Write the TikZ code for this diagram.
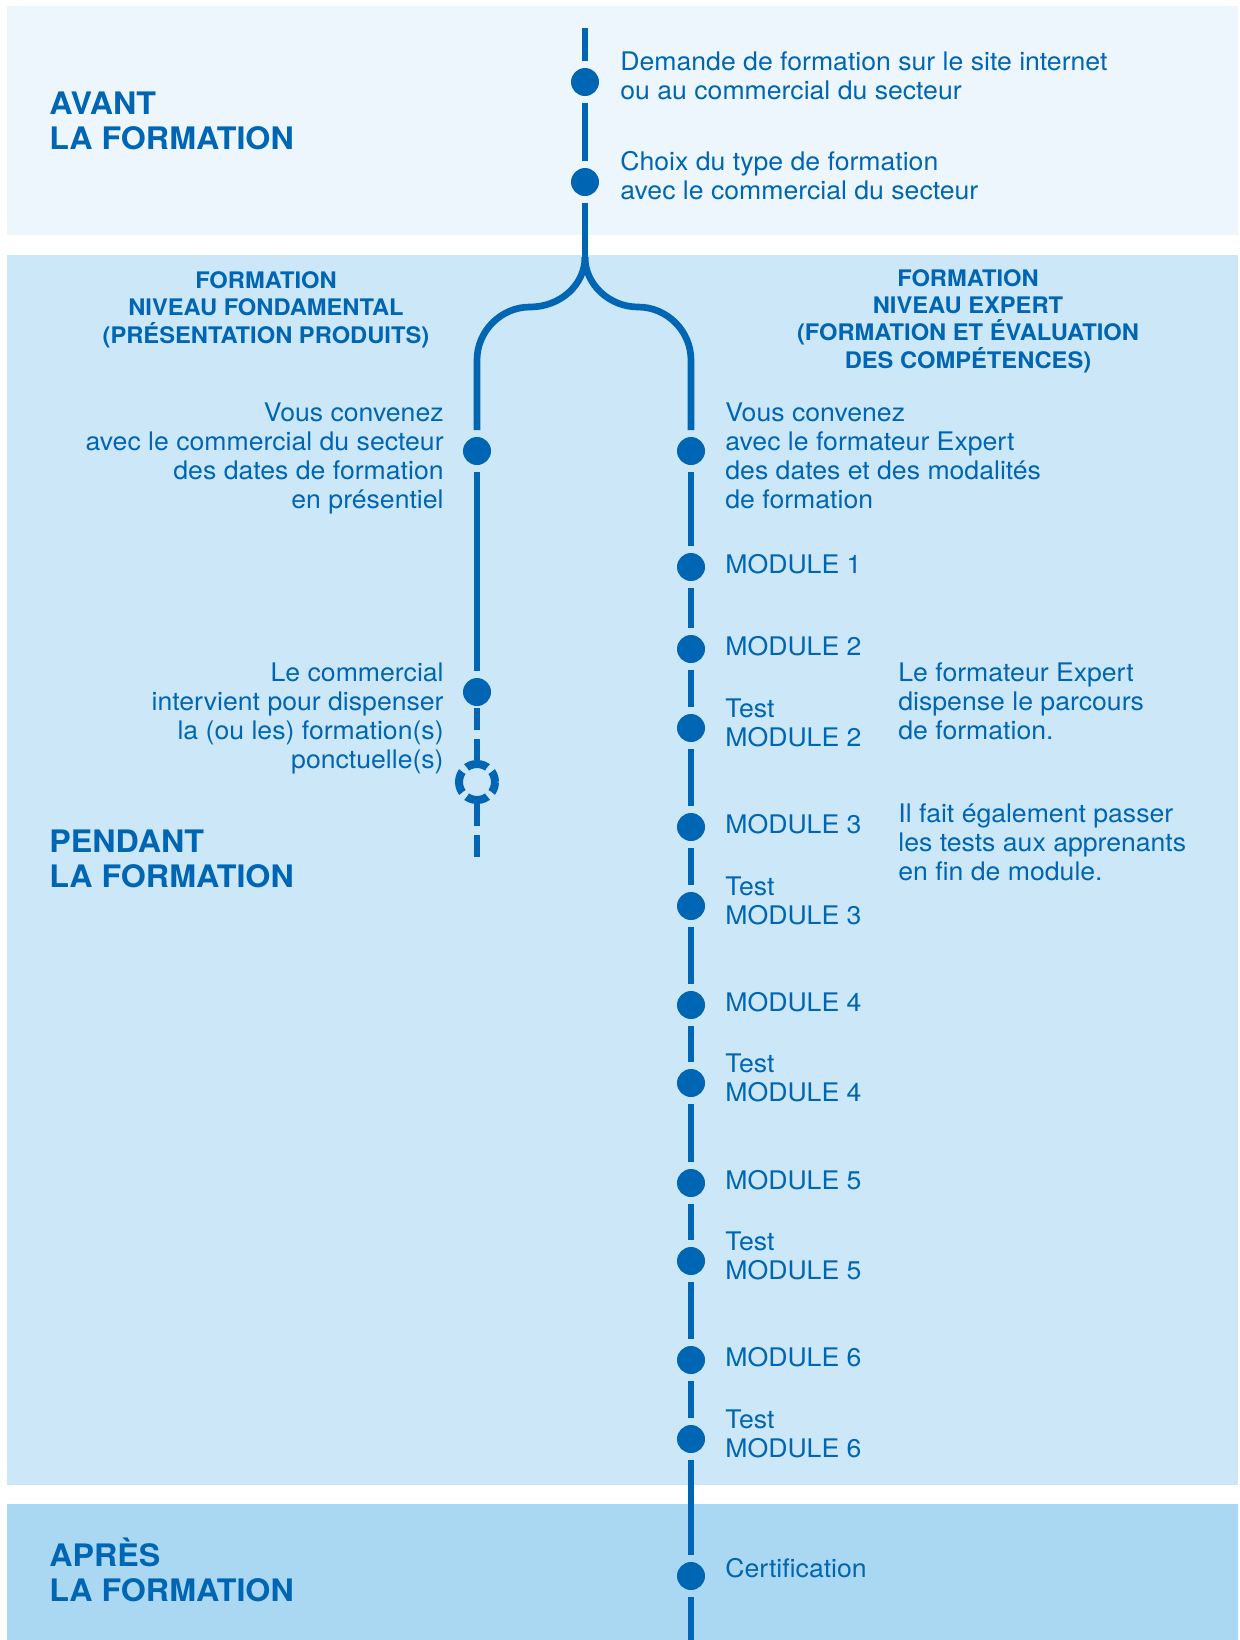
\documentclass[tikz,border=0pt]{standalone}
\usepackage{fontspec}
\setmainfont{TeX Gyre Heros}[FakeStretch=1.04]
\definecolor{bleu}{HTML}{0066B3}
\definecolor{fondA}{HTML}{EDF6FD}
\definecolor{fondB}{HTML}{CCE7F8}
\definecolor{fondC}{HTML}{AAD8F2}

\begin{document}
\begin{tikzpicture}[x=0.5pt, y=-0.5pt,
		ligne/.style={draw=bleu, line width=3.35pt},
		tirets/.style={dash pattern=on 11pt off 4.5pt},
		jalon/.style={circle, fill=bleu, minimum size=14pt, inner sep=0pt, outer sep=3.5pt},
		anneau/.style={circle, draw=bleu, line width=4pt, minimum size=18pt, inner sep=0pt,
			dash pattern=on 11pt off 3.137pt, dash phase=5.5pt},
		texte/.style={text=bleu, font=\fontsize{12.8}{14.5}\selectfont, inner sep=0pt, align=left},
		texteD/.style={texte, align=right},
		titre/.style={text=bleu, font=\fontsize{15.5}{17.25}\selectfont\bfseries, inner sep=0pt, align=left},
		entete/.style={text=bleu, font=\fontsize{11.4}{13.6}\selectfont\bfseries, inner sep=0pt, align=center}]
	\useasboundingbox (0,0) rectangle (1240,1640);
	\fill[fondA] (7,6) rectangle (1238,235);
	\fill[fondB] (7,255) rectangle (1238,1485);
	\fill[fondC] (7,1504) rectangle (1238,1640);

	% avant (base = last line)
	\node[titre, anchor=base west] (avant) at (49,149) {AVANT\\LA FORMATION};
	\coordinate (haut) at (585,28);
	\node[jalon] (a1) at (585,82) {};
	\node[jalon] (a2) at (585,182) {};
	\coordinate (fourche) at (585,257);
	\node[texte, anchor=base west] (ta1) at (620,99) {Demande de formation sur le site internet\\ou au commercial du secteur};
	\node[texte, anchor=base west] (ta2) at (620,199) {Choix du type de formation\\avec le commercial du secteur};
	\draw[ligne] (haut) -- (a1) -- (a2) -- (fourche);

	% pendant
	\node[titre, anchor=base west] (pendant) at (49,887) {PENDANT\\LA FORMATION};
	\node[entete, anchor=base] (hfond) at (266,343) {FORMATION\\NIVEAU FONDAMENTAL\\(PRÉSENTATION PRODUITS)};
	\node[entete, anchor=base] (hexp) at (968,368) {FORMATION\\NIVEAU EXPERT\\(FORMATION ET ÉVALUATION\\DES COMPÉTENCES)};

	\node[jalon] (f1) at (477,451) {};
	\node[jalon] (f2) at (477,692) {};
	\node[anneau] (f3) at (477,782) {};
	\coordinate (fbas) at (477,857);
	\node[texteD, anchor=base east] (tf1) at (444,508) {Vous convenez\\avec le commercial du secteur\\des dates de formation\\en présentiel};
	\node[texteD, anchor=base east] (tf2) at (444,768) {Le commercial\\intervient pour dispenser\\la (ou les) formation(s)\\ponctuelle(s)};
	\draw[ligne] (fourche) .. controls (585,285) and (560,307) .. (530,307)
		.. controls (501,307) and (477,331) .. (477,360) -- (f1);
	\draw[ligne] (f1) -- (f2);
	\draw[ligne, tirets, shorten <=-2.5pt] (f2) -- (f3);
	\draw[ligne, tirets] (f3) -- (fbas);

	\node[jalon] (e1) at (691,451) {};
	\node[jalon] (m1) at (691,567) {};
	\node[texte, anchor=base west] (te1) at (725,508) {Vous convenez\\avec le formateur Expert\\des dates et des modalités\\de formation};
	\node[texte, anchor=base west] (lm1) at (725,573) {MODULE 1};
	\foreach \n/\ym/\yt in {2/649/728, 3/827/906, 4/1005/1083, 5/1183/1261, 6/1360/1439} {
		\node[jalon] (m\n) at (691,\ym) {};
		\node[jalon] (t\n) at (691,\yt) {};
		\node[texte, anchor=base west] (lm\n) at (725,\ym+6) {MODULE \n};
		\node[texte, anchor=base west] (lt\n) at (725,\yt+18) {Test\\MODULE \n};
	}
	\node[texte, anchor=base west] (dispense) at (898,739) {Le formateur Expert\\dispense le parcours\\de formation.};
	\node[texte, anchor=base west] (tests) at (898,880) {Il fait également passer\\les tests aux apprenants\\en fin de module.};
	\draw[ligne] (fourche) .. controls (585,285) and (610,307) .. (638,307)
		.. controls (667,307) and (691,331) .. (691,360) -- (e1);

	% apres
	\node[titre, anchor=base west] (apres) at (49,1601) {APRÈS\\LA FORMATION};
	\node[jalon] (cert) at (691,1576) {};
	\coordinate (ebas) at (691,1640);
	\node[texte, anchor=base west] (tcert) at (725,1577) {Certification};
	\draw[ligne] (e1) -- (m1) -- (m2) -- (t2) -- (m3) -- (t3) -- (m4) -- (t4) -- (m5)
		-- (t5) -- (m6) -- (t6) -- (cert) -- (ebas);
\end{tikzpicture}
\end{document}
